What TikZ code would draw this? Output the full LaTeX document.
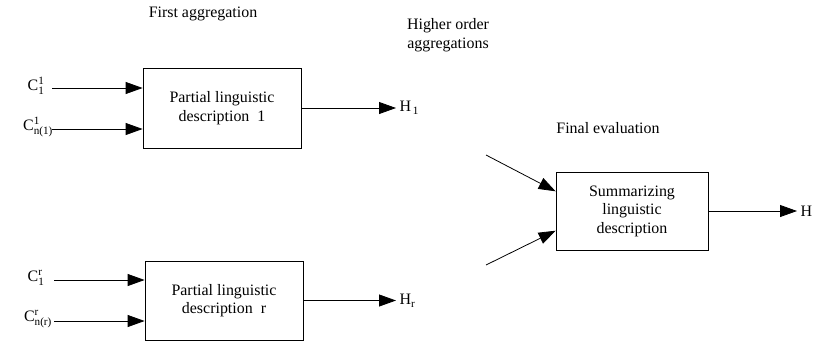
\documentclass[tikz,border=0pt]{standalone}
\usepackage{amsmath}
\usepackage{fontspec}
\setmainfont{Liberation Serif}
\usetikzlibrary{arrows.meta, positioning, calc}

\begin{document}
\begin{tikzpicture}[
    x=1bp, y=-1bp,
    font=\fontsize{16}{18.5}\selectfont,
    descbox/.style={draw, thick, rectangle, align=center, inner sep=0pt},
    flow/.style={thick, -{Triangle[length=17bp, width=12bp]}}
  ]
  \useasboundingbox (0,0) rectangle (819,343);

  % Headings
  \node (firsthead) at (203,14) {First aggregation};
  \node[align=center] (higherhead) at (448,35) {Higher order\\aggregations};
  \node (finalhead) at (608,128) {Final evaluation};

  % Boxes
  \node[descbox, minimum width=158bp, minimum height=80bp] (pld1) at (222,108) {Partial linguistic\\description\ \ 1};
  \node[descbox, minimum width=158bp, minimum height=79bp] (pldr) at (224,300.5) {Partial linguistic\\description\ \ r};
  \node[descbox, minimum width=152bp, minimum height=78bp] (sld) at (632,211) {Summarizing\\linguistic\\description};

  % Inputs of the first box
  \node (c11) at (36,86) {C$^{\text{1}}_{\text{1}}$};
  \node (c1n) at (38,127) {C$^{\text{1}}_{\text{n(1)}}$};
  \coordinate (a11) at (52,88);
  \coordinate (a1n) at (52,129);
  \draw[flow] (a11) -- (a11 -| pld1.west);
  \draw[flow] (a1n) -- (a1n -| pld1.west);

  % Inputs of the last box
  \node (cr1) at (36,278) {C$^{\text{r}}_{\text{1}}$};
  \node (crn) at (38,319) {C$^{\text{r}}_{\text{n(r)}}$};
  \coordinate (ar1) at (54,280);
  \coordinate (arn) at (54,321);
  \draw[flow] (ar1) -- (ar1 -| pldr.west);
  \draw[flow] (arn) -- (arn -| pldr.west);

  % Outputs
  \node[anchor=west] (h1) at (396,108) {H$_{\text{\,1}}$};
  \node[anchor=west] (hr) at (396,301) {H$_{\text{r}}$};
  \node[anchor=west] (h) at (797,211) {H};
  \draw[flow] (pld1.east) -- (h1.west);
  \draw[flow] (pldr.east) -- (pldr.east -| hr.west);
  \draw[flow] (sld.east) -- (h.west);

  % Into the summary
  \coordinate (s1) at (486,155);
  \coordinate (s2) at (486,265);
  \draw[flow] (s1) -- ($(sld.north west)!0.25!(sld.south west)$);
  \draw[flow] (s2) -- ($(sld.north west)!0.75!(sld.south west)$);

\end{tikzpicture}
\end{document}
